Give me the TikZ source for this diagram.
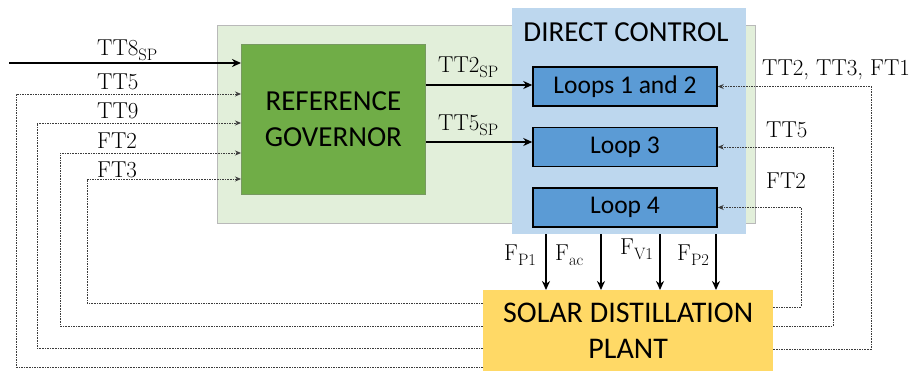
\documentclass[tikz,border=0pt]{standalone}
\usepackage{fontspec}
\newfontfamily\boxfont{Carlito}
\usepackage{xcolor}
\usepackage{tikz}
\usetikzlibrary{positioning, arrows.meta}

\definecolor{govbg}{HTML}{E2EFDA}
\definecolor{govfill}{HTML}{70AD47}
\definecolor{dcbg}{HTML}{BDD7EE}
\definecolor{loopfill}{HTML}{5B9BD5}
\definecolor{plantfill}{HTML}{FFD966}
\definecolor{fbgray}{HTML}{3C3C3C}

% subscript of the signal labels
\newcommand{\lsub}[1]{\raisebox{-5pt}{\fontsize{16.5}{16.5}\selectfont #1}}

\begin{document}
\begin{tikzpicture}[x=1pt, y=-1pt, every node/.style={inner sep=0pt},
    lbl/.style={font=\fontsize{23}{25}\selectfont, anchor=base west},
    boxtxt/.style={font=\boxfont\fontsize{#1}{#1}\selectfont, align=center},
    loopbox/.style={draw=black, line width=1.5pt, fill=loopfill, minimum width=184pt, minimum height=39pt, boxtxt=25.5},
    sig/.style={line width=1.8pt, -{Stealth[length=9pt,width=8pt]}},
    fb/.style={draw=fbgray, line width=0.75pt, dash pattern=on 1.6pt off 1pt, -{Stealth[length=6pt,width=5pt]}}]
    \useasboundingbox (0,0) rectangle (914,370);
    % Backgrounds of the two blocks
    \node[draw=gray!55, line width=0.8pt, fill=govbg, anchor=north west, minimum width=538pt, minimum height=198pt] (govbg) at (217,25) {};
    \node[fill=dcbg, anchor=north west, minimum width=234pt, minimum height=226pt] (dc) at (512,8) {};
    \node[draw=govfill!55!gray, line width=0.8pt, fill=govfill, anchor=north west, minimum width=184pt, minimum height=150pt, boxtxt=29] (gov) at (241,44) {REFERENCE\\[7pt]GOVERNOR};
    \node[boxtxt=29] (dctitle) at (626,32) {DIRECT CONTROL};
    % Loops
    \node[loopbox] (loop12) at (625,86.5) {Loops 1 and 2};
    \node[loopbox, below=20pt of loop12] (loop3) {Loop 3};
    \node[loopbox, below=20pt of loop3] (loop4) {Loop 4};
    \node[fill=plantfill, anchor=north west, minimum width=290pt, minimum height=82pt, boxtxt=30] (plant) at (483,290) {SOLAR DISTILLATION\\[6pt]PLANT};
    % Set points
    \coordinate (tt8) at (9,63);
    \draw[sig] (tt8) -- (gov.west |- tt8);
    \node[lbl] (ltt8) at (97,55) {TT8\lsub{SP}};
    \draw[sig] (gov.east |- 0,85) -- (loop12.west |- 0,85);
    \node[lbl] (ltt2) at (438,72) {TT2\lsub{SP}};
    \draw[sig] (gov.east |- 0,142) -- (loop3.west |- 0,142);
    \node[lbl] (ltt5) at (438,130) {TT5\lsub{SP}};
    % Manipulated variables
    \foreach \xv/\t/\xl/\yl in {546/P1/504/260, 601/ac/555/260, 660/V1/620/254, 716/P2/677/260} {
        \draw[sig] (dc.south -| \xv,0) -- (plant.north -| \xv,0);
        \node[lbl] (f\t) at (\xl,\yl) {F\lsub{\t}};
    }
    % Measurements back to the governor
    \foreach \yin/\xv/\yout/\yl/\t [count=\i] in {94/16/367/89/TT5, 123/37/348/118/TT9, 153/60/326/148/FT2, 179/87/303/177/FT3} {
        \draw[fb] (plant.west |- 0,\yout) -| (\xv,\yin) -- (gov.west |- 0,\yin);
        \node[lbl] (lin\i) at (97,\yl) {\t};
    }
    % Measurements back to the loops
    \foreach \lp/\xv/\yout in {loop12/871/349, loop3/833/326, loop4/801/307} {
        \draw[fb] (plant.east |- 0,\yout) -| (\lp.east -| \xv,0) -- (\lp.east);
    }
    \node[lbl] (lfb12) at (762,75) {TT2, TT3, FT1};
    \node[lbl] (lfb3) at (766,137) {TT5};
    \node[lbl] (lfb4) at (766,188) {FT2};
\end{tikzpicture}
\end{document}
